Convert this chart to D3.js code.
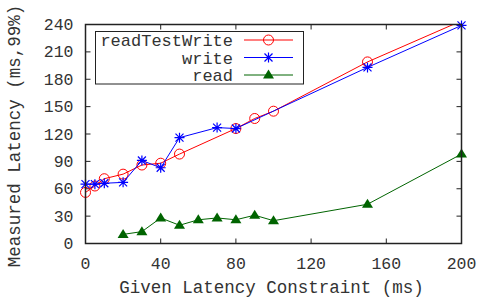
<html>
  <head>
    <style>
      body { margin: 0; background: #fff; }
      text { font-family: "Liberation Mono", "DejaVu Sans Mono", monospace; fill: #333; }
    </style>
  </head>
  <body>
    <script src="https://d3js.org/d3.v7.min.js"></script>
    <script>
    var width = 482, height = 304;
    var margin = {left: 85.5, right: 20.5, top: 24.5, bottom: 60.5};

    // data
    var rtwX = [0, 5, 10, 20, 30, 40, 50, 80, 90, 100, 150, 200];
    var rtwY = [56, 63, 71, 76, 86, 88, 98, 126, 137, 145, 199, 244];
    var writeX = [0, 5, 10, 20, 30, 40, 50, 70, 80, 150, 200];
    var writeY = [65, 65, 66, 67, 91, 83, 116, 127, 126, 193, 239];
    var readX = [20, 30, 40, 50, 60, 70, 80, 90, 100, 150, 200];
    var readY = [10, 13, 28, 20, 26, 28, 26, 31, 25, 43, 98];
    var xTicks = [0, 40, 80, 120, 160, 200];
    var yTicks = [0, 30, 60, 90, 120, 150, 180, 210, 240];

    var series = [
      {name: "readTestWrite", xs: rtwX, ys: rtwY, color: "#ff0000", mark: "circle"},
      {name: "write", xs: writeX, ys: writeY, color: "#0000ff", mark: "star"},
      {name: "read", xs: readX, ys: readY, color: "#006400", mark: "triangle"}
    ];

    var svg = d3.select("body").append("svg")
        .attr("width", width)
        .attr("height", height);

    var x = d3.scaleLinear().domain([0, 200]).range([margin.left, width - margin.right]);
    var y = d3.scaleLinear().domain([0, 240]).range([height - margin.bottom, margin.top]);

    svg.append("clipPath").attr("id", "plot")
      .append("rect")
        .attr("x", x(0)).attr("y", y(240))
        .attr("width", x(200) - x(0)).attr("height", y(0) - y(240));

    // ticks on all four sides, pointing in
    var tl = 5;
    var g = svg.append("g").attr("stroke", "#222").attr("stroke-width", 1);
    xTicks.forEach(function(t) {
      g.append("line").attr("x1", x(t)).attr("x2", x(t)).attr("y1", y(0)).attr("y2", y(0) - tl);
      g.append("line").attr("x1", x(t)).attr("x2", x(t)).attr("y1", y(240)).attr("y2", y(240) + tl);
    });
    yTicks.forEach(function(t) {
      g.append("line").attr("x1", x(0)).attr("x2", x(0) + tl).attr("y1", y(t)).attr("y2", y(t));
      g.append("line").attr("x1", x(200)).attr("x2", x(200) - tl).attr("y1", y(t)).attr("y2", y(t));
    });

    svg.selectAll(".xl").data(xTicks).enter().append("text")
        .attr("x", function(d) { return x(d); })
        .attr("y", y(0) + 25)
        .attr("text-anchor", "middle")
        .style("font-size", "16.5px")
        .text(function(d) { return d; });

    svg.selectAll(".yl").data(yTicks).enter().append("text")
        .attr("x", x(0) - 12)
        .attr("y", function(d) { return y(d) + 5.5; })
        .attr("text-anchor", "end")
        .style("font-size", "16.5px")
        .text(function(d) { return d; });

    svg.append("text")
        .attr("x", (x(0) + x(200)) / 2 - 2)
        .attr("y", 293)
        .attr("text-anchor", "middle")
        .style("font-size", "17.5px")
        .text("Given Latency Constraint (ms)");

    svg.append("text")
        .attr("transform", "translate(20," + 136 + ") rotate(-90)")
        .attr("text-anchor", "middle")
        .style("font-size", "17.5px")
        .text("Measured Latency (ms,99%)");

    function drawMark(sel, s, cx, cy) {
      if (s.mark == "circle") {
        sel.append("circle").attr("cx", cx).attr("cy", cy).attr("r", 5)
          .attr("fill", "none").attr("stroke", s.color).attr("stroke-width", 1);
      } else if (s.mark == "star") {
        var r = 5;
        sel.append("path")
          .attr("d", "M" + (cx - r) + "," + cy + "H" + (cx + r) +
                     "M" + cx + "," + (cy - r) + "V" + (cy + r) +
                     "M" + (cx - r * 0.8) + "," + (cy - r * 0.8) + "L" + (cx + r * 0.8) + "," + (cy + r * 0.8) +
                     "M" + (cx - r * 0.8) + "," + (cy + r * 0.8) + "L" + (cx + r * 0.8) + "," + (cy - r * 0.8))
          .attr("stroke", s.color).attr("stroke-width", 1.2).attr("fill", "none");
      } else {
        sel.append("path")
          .attr("d", "M" + cx + "," + (cy - 5.5) + "L" + (cx + 5.5) + "," + (cy + 3.5) + "L" + (cx - 5.5) + "," + (cy + 3.5) + "Z")
          .attr("fill", s.color);
      }
    }

    var line = d3.line()
        .x(function(d) { return x(d[0]); })
        .y(function(d) { return y(d[1]); });

    series.forEach(function(s) {
      var pts = s.xs.map(function(v, i) { return [v, s.ys[i]]; });
      svg.append("path")
          .attr("d", line(pts))
          .attr("clip-path", "url(#plot)")
          .attr("fill", "none")
          .attr("stroke", s.color)
          .attr("stroke-width", 1);
      var mg = svg.append("g");
      pts.forEach(function(p) {
        if (p[1] <= 240) drawMark(mg, s, x(p[0]), y(p[1]));
      });
    });

    // frame
    svg.append("rect")
        .attr("x", x(0)).attr("y", y(240))
        .attr("width", x(200) - x(0)).attr("height", y(0) - y(240))
        .attr("fill", "none").attr("stroke", "#222").attr("stroke-width", 1.5);

    // legend
    var leg = svg.append("g");
    leg.append("rect")
        .attr("x", 95.5).attr("y", 31.5).attr("width", 208).attr("height", 52.5)
        .attr("fill", "none").attr("stroke", "#222").attr("stroke-width", 1);
    series.forEach(function(s, i) {
      var ry = 40 + i * 17.5;
      leg.append("text")
          .attr("x", 233).attr("y", ry + 6)
          .attr("text-anchor", "end")
          .style("font-size", "17px")
          .text(s.name);
      leg.append("line")
          .attr("x1", 244).attr("x2", 293).attr("y1", ry).attr("y2", ry)
          .attr("stroke", s.color).attr("stroke-width", 1);
      drawMark(leg, s, 268.5, ry);
    });
    </script>
  </body>
</html>
